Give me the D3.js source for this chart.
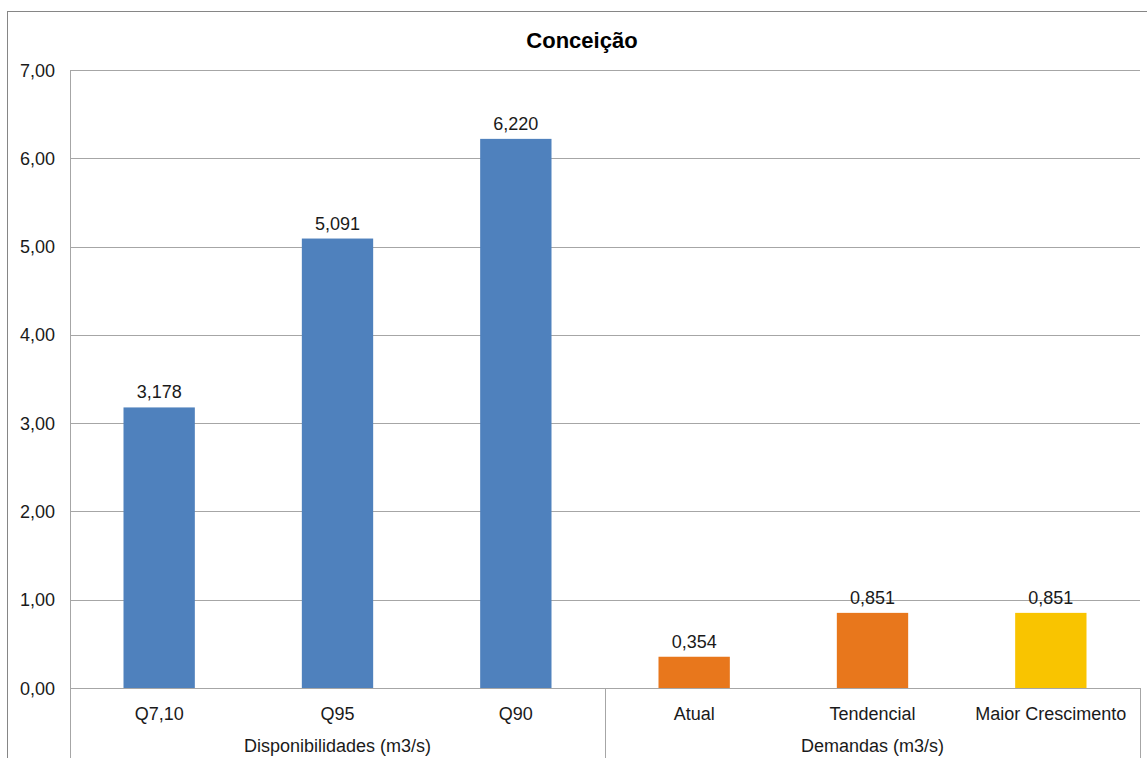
<!DOCTYPE html>
<html>
<head>
<meta charset="utf-8">
<script src="https://cdn.jsdelivr.net/npm/d3@7/dist/d3.min.js"></script>
<style>
  html, body { margin: 0; padding: 0; background: #fff; }
  svg { display: block; font-family: "Liberation Sans", Arial, sans-serif; }
</style>
</head>
<body>
<svg id="chart" width="1147" height="758"></svg>
<script>
// Chart data
const title = "Conceição";
const categories = ["Q7,10", "Q95", "Q90", "Atual", "Tendencial", "Maior Crescimento"];
const values = [3.178, 5.091, 6.220, 0.354, 0.851, 0.851];
const valueLabels = ["3,178", "5,091", "6,220", "0,354", "0,851", "0,851"];
const barColors = ["#4F81BD", "#4F81BD", "#4F81BD", "#E8771C", "#E8771C", "#F9C400"];
const groups = ["Disponibilidades (m3/s)", "Demandas (m3/s)"];
const groupSizes = [3, 3];
const yTicks = [0, 1, 2, 3, 4, 5, 6, 7];

const svg = d3.select("#chart");
const W = 1147, H = 758;
const plot = { left: 70, right: 1140, top: 70, bottom: 688 };
const fs = 18;

// Outer chart frame (runs past the right and bottom edges)
svg.append("rect")
  .attr("x", 7.5).attr("y", 11.5)
  .attr("width", W + 20).attr("height", H + 20)
  .attr("fill", "#fff").attr("stroke", "#868686").attr("stroke-width", 1);

const x = d3.scaleBand().domain(categories).range([plot.left, plot.right]).paddingInner(0.6).paddingOuter(0.3);
const xOuter = d3.scaleBand().domain(categories).range([plot.left, plot.right]);
const y = d3.scaleLinear().domain([0, 7]).range([plot.bottom, plot.top]);

const fmt = v => d3.format(".2f")(v).replace(".", ",");

// Horizontal gridlines
svg.append("g").selectAll("line").data(yTicks).join("line")
  .attr("x1", plot.left).attr("x2", plot.right)
  .attr("y1", d => Math.round(y(d)) + 0.5).attr("y2", d => Math.round(y(d)) + 0.5)
  .attr("stroke", "#A6A6A6").attr("stroke-width", 1);

// Y tick labels
svg.append("g").selectAll("text").data(yTicks).join("text")
  .attr("x", 55).attr("y", d => y(d) + 6.5)
  .attr("text-anchor", "end")
  .attr("font-size", fs).attr("fill", "#1a1a1a")
  .text(fmt);

// Left axis line, extended through the category label rows
svg.append("line")
  .attr("x1", plot.left + 0.5).attr("x2", plot.left + 0.5)
  .attr("y1", plot.top).attr("y2", H)
  .attr("stroke", "#A6A6A6");

// Group boundary lines of the two-level category axis
let idx = 0;
const groupBounds = groupSizes.map(n => {
  const start = xOuter(categories[idx]);
  const end = xOuter(categories[idx + n - 1]) + xOuter.bandwidth();
  idx += n;
  return [start, end];
});
const boundaryXs = groupBounds.slice(1).map(d => d[0]).concat([groupBounds[groupBounds.length - 1][1]]);
svg.append("g").selectAll("line").data(boundaryXs).join("line")
  .attr("x1", d => Math.round(d) + 0.5).attr("x2", d => Math.round(d) + 0.5)
  .attr("y1", plot.bottom).attr("y2", H)
  .attr("stroke", "#A6A6A6");

// Bars
svg.append("g").selectAll("rect").data(categories).join("rect")
  .attr("x", d => x(d))
  .attr("width", x.bandwidth())
  .attr("y", (d, i) => y(values[i]))
  .attr("height", (d, i) => y(0) - y(values[i]))
  .attr("fill", (d, i) => barColors[i]);

// Value labels
svg.append("g").selectAll("text").data(categories).join("text")
  .attr("x", d => x(d) + x.bandwidth() / 2)
  .attr("y", (d, i) => y(values[i]) - 9)
  .attr("text-anchor", "middle")
  .attr("font-size", fs).attr("fill", "#1a1a1a")
  .text((d, i) => valueLabels[i]);

// Category labels
svg.append("g").selectAll("text").data(categories).join("text")
  .attr("x", d => xOuter(d) + xOuter.bandwidth() / 2)
  .attr("y", 719.5)
  .attr("text-anchor", "middle")
  .attr("font-size", fs).attr("fill", "#1a1a1a")
  .text(d => d);

// Group labels
svg.append("g").selectAll("text").data(groups).join("text")
  .attr("x", (d, i) => (groupBounds[i][0] + groupBounds[i][1]) / 2)
  .attr("y", 751.5)
  .attr("text-anchor", "middle")
  .attr("font-size", fs).attr("fill", "#1a1a1a")
  .text(d => d);

// Title
svg.append("text")
  .attr("x", 582).attr("y", 48)
  .attr("text-anchor", "middle")
  .attr("font-size", 22).attr("font-weight", "bold").attr("fill", "#000")
  .text(title);
</script>
</body>
</html>
